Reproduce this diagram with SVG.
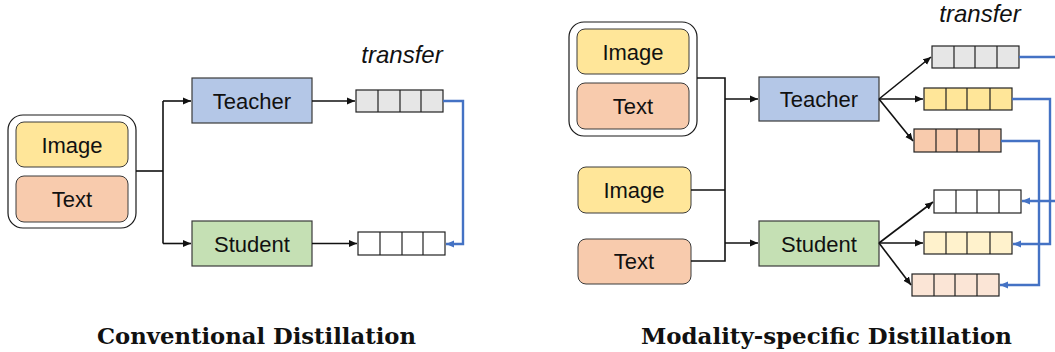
<svg xmlns="http://www.w3.org/2000/svg" width="1055" height="352" viewBox="0 0 1055 352">
<style>
.bg{fill:#ffffff}
.outer{fill:#ffffff;stroke:#1a1a1a;stroke-width:1.2}
.img{fill:#ffe699;stroke:#3a3a3a;stroke-width:1}
.txt{fill:#f8cbad;stroke:#3a3a3a;stroke-width:1}
.tea{fill:#b4c7e7;stroke:#3a3a3a;stroke-width:1.2}
.stu{fill:#c5e0b4;stroke:#3a3a3a;stroke-width:1.2}
.cell{stroke:#222;stroke-width:1.2}
.gray{fill:#e6e6e6}
.white{fill:#ffffff}
.yel{fill:#ffe699}
.lyel{fill:#fff2cc}
.ora{fill:#f8cbad}
.lora{fill:#fbe5d6}
.lbl{font-family:"Liberation Sans",Arial,sans-serif;font-size:22px;fill:#111;text-anchor:middle}
.it{font-family:"Liberation Sans",Arial,sans-serif;font-size:24px;font-style:italic;fill:#111;text-anchor:middle}
.title{font-family:"DejaVu Serif","Liberation Serif",serif;font-size:22px;font-weight:bold;fill:#111;text-anchor:middle}
.k{fill:none;stroke:#111;stroke-width:1.6}
.b{fill:none;stroke:#4472c4;stroke-width:2.4}
</style>
<defs>
<marker id="ak" markerUnits="userSpaceOnUse" markerWidth="9" markerHeight="8" refX="8" refY="4" orient="auto"><path d="M0,0.5 L8,4 L0,7.5 z" fill="#111"/></marker>
<marker id="ab" markerUnits="userSpaceOnUse" markerWidth="9" markerHeight="8" refX="8" refY="4" orient="auto"><path d="M0,0.5 L8,4 L0,7.5 z" fill="#4472c4"/></marker>
</defs>
<rect class="bg" x="0" y="0" width="1055" height="352"/>

<!-- LEFT PANEL -->
<g id="left-input">
<rect class="outer" x="8" y="115" width="128" height="113" rx="15"/>
<g id="left-image"><rect class="img" x="16" y="122" width="112" height="45" rx="8"/><text class="lbl" x="72" y="152.5">Image</text></g>
<g id="left-text"><rect class="txt" x="16" y="176" width="112" height="46" rx="8"/><text class="lbl" x="72" y="206.5">Text</text></g>
</g>
<g id="left-teacher"><rect class="tea" x="192" y="78" width="120" height="45"/><text class="lbl" x="252" y="108.5">Teacher</text></g>
<g id="left-student"><rect class="stu" x="192" y="221" width="120" height="45"/><text class="lbl" x="252" y="251.5">Student</text></g>
<g id="left-teacher-feat">
<rect class="cell gray" x="356" y="90" width="87" height="22"/>
<path class="cell" d="M378,90V112M400,90V112M421,90V112"/>
</g>
<g id="left-student-feat">
<rect class="cell white" x="358" y="232" width="87" height="23"/>
<path class="cell" d="M380,232V255M402,232V255M423,232V255"/>
</g>
<text id="left-transfer" class="it" x="402" y="63">transfer</text>

<!-- RIGHT PANEL -->
<g id="right-input">
<rect class="outer" x="569" y="22" width="128" height="114" rx="15"/>
<g id="right-image"><rect class="img" x="577" y="29" width="112" height="45" rx="8"/><text class="lbl" x="633" y="59.5">Image</text></g>
<g id="right-text"><rect class="txt" x="577" y="83" width="112" height="46" rx="8"/><text class="lbl" x="633" y="113.5">Text</text></g>
</g>
<g id="right-image2"><rect class="img" x="578" y="167" width="113" height="46" rx="8"/><text class="lbl" x="634" y="197.5">Image</text></g>
<g id="right-text2"><rect class="txt" x="578" y="239" width="113" height="45" rx="8"/><text class="lbl" x="634" y="269">Text</text></g>
<g id="right-teacher"><rect class="tea" x="759" y="77" width="120" height="44"/><text class="lbl" x="819" y="106.5">Teacher</text></g>
<g id="right-student"><rect class="stu" x="759" y="221" width="120" height="45"/><text class="lbl" x="819" y="251.5">Student</text></g>

<g id="t-feat-all">
<rect class="cell gray" x="932" y="46" width="87" height="22"/>
<path class="cell" d="M954,46V68M975,46V68M997,46V68"/>
</g>
<g id="t-feat-img">
<rect class="cell yel" x="924" y="88" width="88" height="22"/>
<path class="cell" d="M946,88V110M967,88V110M990,88V110"/>
</g>
<g id="t-feat-txt">
<rect class="cell ora" x="914" y="129" width="87" height="23"/>
<path class="cell" d="M936,129V152M957,129V152M979,129V152"/>
</g>
<g id="s-feat-all">
<rect class="cell white" x="934" y="190" width="87" height="23"/>
<path class="cell" d="M956,190V213M977,190V213M999,190V213"/>
</g>
<g id="s-feat-img">
<rect class="cell lyel" x="924" y="232" width="88" height="22"/>
<path class="cell" d="M946,232V254M967,232V254M990,232V254"/>
</g>
<g id="s-feat-txt">
<rect class="cell lora" x="912" y="274" width="87" height="22"/>
<path class="cell" d="M934,274V296M955,274V296M977,274V296"/>
</g>
<text id="right-transfer" class="it" x="980" y="22">transfer</text>

<!-- CONNECTORS -->
<g id="connectors">
<path class="k" d="M136,171H163"/>
<path class="k" d="M163,101V243.5"/>
<path class="k" d="M163,101H191" marker-end="url(#ak)"/>
<path class="k" d="M163,243.5H191" marker-end="url(#ak)"/>
<path class="k" d="M312,101H355" marker-end="url(#ak)"/>
<path class="k" d="M312,243.5H357" marker-end="url(#ak)"/>
<path class="b" d="M443,101H463V244H446" marker-end="url(#ab)"/>

<path class="k" d="M697,78H725V261H691"/>
<path class="k" d="M691,190H725"/>
<path class="k" d="M725,99H758" marker-end="url(#ak)"/>
<path class="k" d="M725,243H758" marker-end="url(#ak)"/>
<path class="k" d="M879,99L931,57" marker-end="url(#ak)"/>
<path class="k" d="M879,99H923" marker-end="url(#ak)"/>
<path class="k" d="M879,99L913,141" marker-end="url(#ak)"/>
<path class="k" d="M879,243L933,202" marker-end="url(#ak)"/>
<path class="k" d="M879,243H923" marker-end="url(#ak)"/>
<path class="k" d="M879,243L911,285" marker-end="url(#ak)"/>

<path class="b" d="M1019,57H1062V201"/>
<path class="b" d="M1062,201H1022" marker-end="url(#ab)"/>
<path class="b" d="M1012,99H1050V244H1013" marker-end="url(#ab)"/>
<path class="b" d="M1001,141H1039V285H1000" marker-end="url(#ab)"/>
</g>

<text id="title-left" class="title" x="256.5" y="344" textLength="319" lengthAdjust="spacingAndGlyphs">Conventional Distillation</text>
<text id="title-right" class="title" x="826.5" y="344" textLength="371" lengthAdjust="spacingAndGlyphs">Modality-specific Distillation</text>
</svg>
